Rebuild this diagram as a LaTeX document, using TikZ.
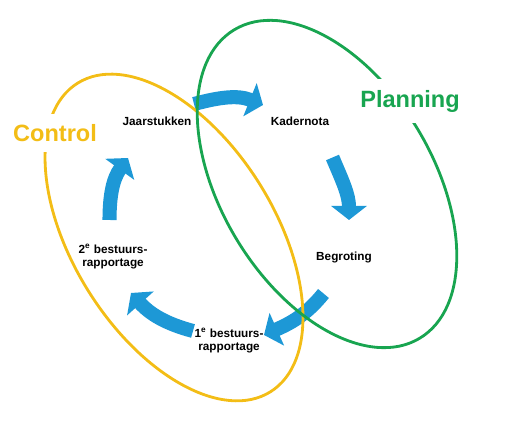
\documentclass[tikz,border=0pt]{standalone}
\usepackage{fontspec}
\setmainfont{Liberation Sans}
\usetikzlibrary{arrows.meta}
\definecolor{pcblue}{RGB}{29,152,214}
\definecolor{pcyellow}{RGB}{243,189,22}
\definecolor{pcgreen}{RGB}{24,165,80}
\tikzset{
    stage/.style={
        align=center,
        font=\fontsize{6.7}{7.6}\selectfont\bfseries,
        inner sep=1pt
    },
    phase/.style={
        fill=white,
        inner xsep=2pt,
        inner ysep=6pt,
        font=\fontsize{13.4}{15}\selectfont\bfseries
    },
    cyclearrow/.style={
        -{Triangle[width=20pt,length=8pt]},
        line width=8pt,
        draw=pcblue
    },
    ringline/.style={
        line width=1.6pt
    }
}

\begin{document}
\begin{tikzpicture}[x=0.02cm,y=0.02cm]
    \useasboundingbox (0,0) rectangle (507,425);

    % Arrow ends
    \coordinate (jaar-out) at (194,321);
    \coordinate (kader-in) at (263,320);
    \coordinate (kader-out) at (332.5,267.5);
    \coordinate (begr-in) at (349,205);
    \coordinate (begr-out) at (323.5,131.5);
    \coordinate (eerste-in) at (264,90);
    \coordinate (eerste-out) at (193,94);
    \coordinate (tweede-in) at (131,132);
    \coordinate (tweede-out) at (109.5,205);
    \coordinate (jaar-in) at (128,267);

    % Cycle arrows
    \draw[cyclearrow] (jaar-out) to[out=15,in=158] (kader-in);
    \draw[cyclearrow] (kader-out) to[out=-67,in=90] (begr-in);
    \draw[cyclearrow] (begr-out) to[out=231,in=24] (eerste-in);
    \draw[cyclearrow] (eerste-out) to[out=165,in=312] (tweede-in);
    \draw[cyclearrow] (tweede-out) to[out=90,in=234] (jaar-in);

    % Control and Planning rings
    \draw[ringline, pcyellow, rotate around={-58:(174,187.5)}]
        (174,187.5) ellipse [x radius=3.64cm, y radius=2.02cm];
    \draw[ringline, pcgreen, rotate around={-59:(327,241)}]
        (327,241) ellipse [x radius=3.6cm, y radius=2.12cm];

    % Stages
    \node[stage] (jaar) at (157,304) {Jaarstukken};
    \node[stage] (kader) at (300,304) {Kadernota};
    \node[stage] (begr) at (344,168) {Begroting};
    \node[stage] (eerste) at (229,84.5) {1\textsuperscript{e} bestuurs-\\rapportage};
    \node[stage] (tweede) at (113,168.5) {2\textsuperscript{e} bestuurs-\\rapportage};

    % Phases
    \node[phase, text=pcyellow] (control) at (55,292) {Control};
    \node[phase, text=pcgreen] (planning) at (410,324) {Planning};
\end{tikzpicture}
\end{document}
